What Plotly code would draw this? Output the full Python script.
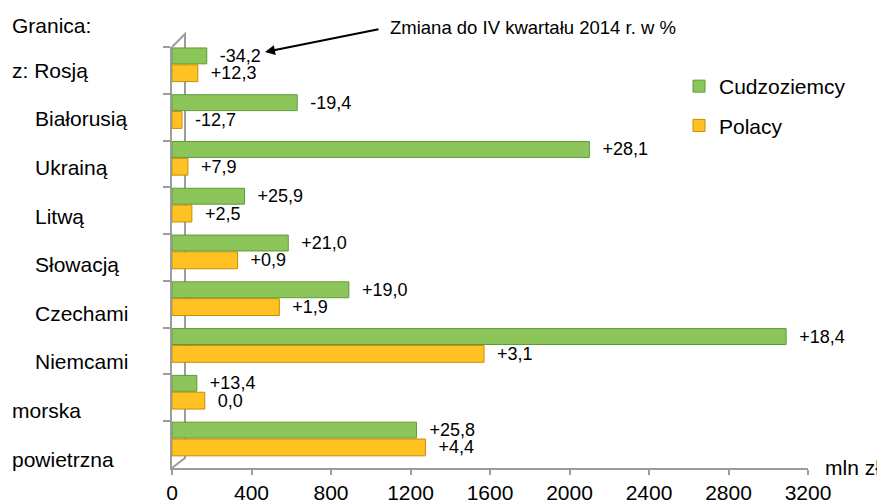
import plotly.graph_objects as go

# data (mln zł), top to bottom as in the chart
categories = ["z: Rosją", "Białorusią", "Ukrainą", "Litwą", "Słowacją",
              "Czechami", "Niemcami", "morska", "powietrzna"]
indented = [False, True, True, True, True, True, True, False, False]
foreigners = [175, 630, 2100, 365, 585, 890, 3090, 125, 1230]
poles = [130, 50, 80, 100, 330, 540, 1570, 165, 1275]
foreigners_change = ["-34,2", "-19,4", "+28,1", "+25,9", "+21,0",
                     "+19,0", "+18,4", "+13,4", "+25,8"]
poles_change = ["+12,3", "-12,7", "+7,9", "+2,5", "+0,9",
                "+1,9", "+3,1", "0,0", "+4,4"]
x_ticks = [0, 400, 800, 1200, 1600, 2000, 2400, 2800, 3200]

FONT = "Liberation Sans, Arial, sans-serif"
GREEN = "#8cc65a"
GREEN_EDGE = "#5f9a38"
ORANGE = "#ffc222"
ORANGE_EDGE = "#c48e08"
AXIS = "#9c9c9c"

# the page body adds an 8px margin, so the figure is shrunk to fit the window
OFF = 8
W, H = 885 - OFF, 503 - OFF
L, R, T, B = 172, 808, 47, 468  # plot area in window pixels


def px2x(px):
    return (px - L) / (R - L)


def px2y(py):
    return (B - py) / (B - T)


def pad(labels):
    return ["\u00a0\u00a0" + s for s in labels]


fig = go.Figure()
fig.add_trace(go.Bar(
    y=categories, x=foreigners, orientation="h", name="Cudzoziemcy",
    marker=dict(color=GREEN, line=dict(color=GREEN_EDGE, width=1)),
    offset=-0.48, width=0.34,
    text=pad(foreigners_change), textposition="outside",
    textfont=dict(size=18, color="black", family=FONT),
    constraintext="none", cliponaxis=False, legendgroup="a",
))
fig.add_trace(go.Bar(
    y=categories, x=poles, orientation="h", name="Polacy",
    marker=dict(color=ORANGE, line=dict(color=ORANGE_EDGE, width=1)),
    offset=-0.12, width=0.36,
    text=pad(poles_change), textposition="outside",
    textfont=dict(size=18, color="black", family=FONT),
    constraintext="none", cliponaxis=False, legendgroup="b",
))

# back wall of the 3D frame
wall = (f"M{px2x(172)},{px2y(47)} L{px2x(185)},{px2y(34)} "
        f"L{px2x(185)},{px2y(458)} L{px2x(172)},{px2y(468)}")
fig.add_shape(type="path", path=wall, xref="paper", yref="paper",
              line=dict(color=AXIS, width=2), layer="below")

annotations = []
for i, (cat, ind) in enumerate(zip(categories, indented)):
    annotations.append(dict(
        x=px2x(33 if ind else 10), xref="paper", y=cat, yref="y",
        yshift=-1.8 * i, text=cat, showarrow=False, xanchor="left",
        yanchor="middle", font=dict(size=21, color="black", family=FONT),
    ))
annotations += [
    dict(x=px2x(10), y=px2y(25), xref="paper", yref="paper", text="Granica:",
         showarrow=False, xanchor="left", yanchor="middle",
         font=dict(size=21, color="black", family=FONT)),
    dict(x=px2x(823), y=px2y(467), xref="paper", yref="paper", text="mln zł",
         showarrow=False, xanchor="left", yanchor="middle",
         font=dict(size=21, color="black", family=FONT)),
    dict(x=px2x(388), y=px2y(27), xref="paper", yref="paper",
         text="Zmiana do IV kwartału 2014 r. w %", showarrow=False,
         xanchor="left", yanchor="middle",
         font=dict(size=18.5, color="black", family=FONT)),
    dict(x=px2x(265), y=px2y(52), xref="paper", yref="paper", text="",
         showarrow=True, ax=115, ay=-23, arrowhead=2, arrowsize=1,
         arrowwidth=2, arrowcolor="black", standoff=0),
]

fig.update_layout(
    width=W, height=H,
    margin=dict(l=L - OFF, r=W - (R - OFF), t=T - OFF, b=H - (B - OFF),
                pad=0, autoexpand=False),
    paper_bgcolor="white", plot_bgcolor="white",
    barmode="group",
    font=dict(family=FONT, color="black"),
    showlegend=True,
    legend=dict(x=px2x(679), y=px2y(66), xanchor="left", yanchor="top",
                font=dict(size=21, color="black", family=FONT),
                tracegroupgap=9, bgcolor="rgba(0,0,0,0)"),
    annotations=annotations,
    xaxis=dict(range=[0, 3200], tickvals=x_ticks,
               ticktext=[str(v) for v in x_ticks], automargin=False,
               showgrid=False, zeroline=False, showline=True,
               linecolor=AXIS, linewidth=2, ticks="outside", ticklen=5,
               tickcolor=AXIS, tickwidth=2,
               tickfont=dict(size=21, color="black", family=FONT)),
    yaxis=dict(autorange="reversed", showticklabels=False, showgrid=False,
               zeroline=False, showline=True, linecolor=AXIS, linewidth=2,
               ticks="outside", ticklen=7, tickcolor=AXIS, tickwidth=2,
               tickson="boundaries", automargin=False),
)

fig.write_html("out.html")
